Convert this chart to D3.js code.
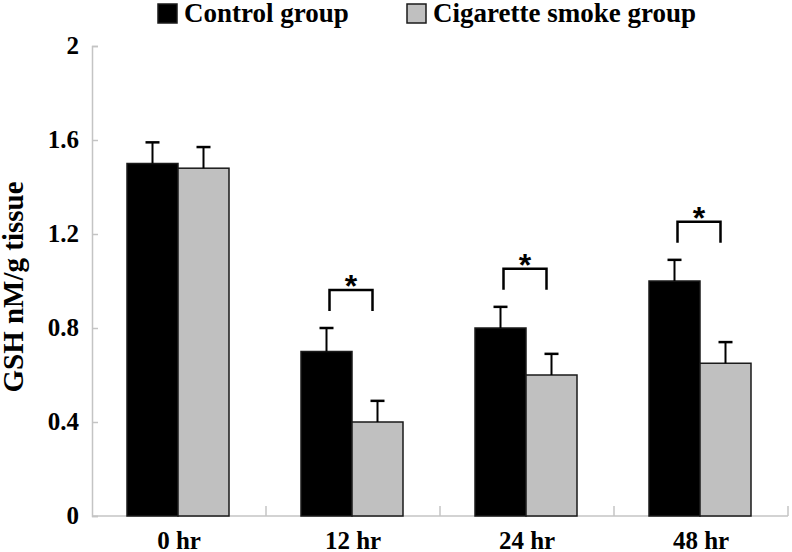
<!DOCTYPE html>
<html>
<head>
<meta charset="utf-8">
<script src="https://cdn.jsdelivr.net/npm/d3@7"></script>
<style>
  body { margin: 0; background: #fff; }
  text { font-family: "Liberation Serif", "Times New Roman", serif; font-weight: bold; fill: #000; }
</style>
</head>
<body>
<div id="chart"></div>
<script>
// Data
var categories = ["0 hr", "12 hr", "24 hr", "48 hr"];
var controlVals = [1.5, 0.7, 0.8, 1.0];
var controlErr = [0.09, 0.1, 0.09, 0.09];
var smokeVals = [1.48, 0.4, 0.6, 0.65];
var smokeErr = [0.09, 0.09, 0.09, 0.09];
var significant = [false, true, true, true];
var yTicks = [0, 0.4, 0.8, 1.2, 1.6, 2];
var seriesNames = ["Control group", "Cigarette smoke group"];

var width = 792, height = 552;
var plotLeft = 92, plotRight = 788, plotTop = 46, plotBottom = 516;
var colors = ["#000000", "#c0c0c0"];

var svg = d3.select("#chart").append("svg")
    .attr("width", width)
    .attr("height", height);

var x0 = d3.scaleBand().domain(categories).range([plotLeft, plotRight]);
var x1 = d3.scaleBand().domain([0, 1]).range([35, 137]);
var y = d3.scaleLinear().domain([0, 2]).range([plotBottom, plotTop]);

// rows for the bars
var rows = [];
categories.forEach(function(c, i) {
  rows.push({cat: c, s: 0, v: controlVals[i], e: controlErr[i]});
  rows.push({cat: c, s: 1, v: smokeVals[i], e: smokeErr[i]});
});

// y axis (ticks inward)
var yAxis = svg.append("g")
    .attr("transform", "translate(" + plotLeft + ",0)")
    .call(d3.axisRight(y).tickValues(yTicks).tickSize(6).tickSizeOuter(6).tickFormat(""));
yAxis.selectAll("line").attr("stroke", "#c4c4c4").attr("stroke-width", 1.5);
yAxis.select(".domain").attr("stroke", "#c4c4c4").attr("stroke-width", 1.5);

svg.selectAll(".ylab").data(yTicks).enter().append("text")
    .attr("class", "ylab")
    .attr("x", 79)
    .attr("y", function(d) { return y(d) + 7.5; })
    .attr("text-anchor", "end")
    .style("font-size", "25px")
    .text(function(d) { return d3.format("")(d); });

// x axis: line plus inward ticks at category boundaries
var bounds = categories.map(function(c) { return x0(c); }).concat([plotRight]);
svg.append("line")
    .attr("x1", plotLeft).attr("x2", plotRight)
    .attr("y1", plotBottom).attr("y2", plotBottom)
    .attr("stroke", "#c4c4c4").attr("stroke-width", 1.5);
svg.selectAll(".xtick").data(bounds.slice(1)).enter().append("line")
    .attr("x1", function(d) { return d; }).attr("x2", function(d) { return d; })
    .attr("y1", plotBottom).attr("y2", plotBottom - 10)
    .attr("stroke", "#c4c4c4").attr("stroke-width", 1.5);

svg.selectAll(".xlab").data(categories).enter().append("text")
    .attr("x", function(d) { return x0(d) + x0.bandwidth() / 2; })
    .attr("y", 549)
    .attr("text-anchor", "middle")
    .style("font-size", "25px")
    .text(function(d) { return d; });

// bars
svg.selectAll(".bar").data(rows).enter().append("rect")
    .attr("x", function(d) { return x0(d.cat) + x1(d.s); })
    .attr("width", x1.bandwidth())
    .attr("y", function(d) { return y(d.v); })
    .attr("height", function(d) { return y(0) - y(d.v); })
    .attr("fill", function(d) { return colors[d.s]; })
    .attr("stroke", "#1a1a1a")
    .attr("stroke-width", 1.5);

// error bars (upper only)
var eb = svg.selectAll(".err").data(rows).enter().append("g");
eb.append("line")
    .attr("x1", function(d) { return x0(d.cat) + x1(d.s) + x1.bandwidth() / 2; })
    .attr("x2", function(d) { return x0(d.cat) + x1(d.s) + x1.bandwidth() / 2; })
    .attr("y1", function(d) { return y(d.v); })
    .attr("y2", function(d) { return y(d.v + d.e); })
    .attr("stroke", "#000").attr("stroke-width", 2);
eb.append("line")
    .attr("x1", function(d) { return x0(d.cat) + x1(d.s) + x1.bandwidth() / 2 - 7; })
    .attr("x2", function(d) { return x0(d.cat) + x1(d.s) + x1.bandwidth() / 2 + 7; })
    .attr("y1", function(d) { return y(d.v + d.e); })
    .attr("y2", function(d) { return y(d.v + d.e); })
    .attr("stroke", "#000").attr("stroke-width", 2.5);

// significance brackets
var sig = categories.map(function(c, i) {
  return {cat: c, top: Math.max(controlVals[i] + controlErr[i], smokeVals[i] + smokeErr[i]), on: significant[i]};
}).filter(function(d) { return d.on; });

var br = svg.selectAll(".br").data(sig).enter().append("g");
br.append("path")
    .attr("d", function(d) {
      var xa = x0(d.cat) + x1(0) + x1.bandwidth() / 2 + 3;
      var xb = x0(d.cat) + x1(1) + x1.bandwidth() / 2 - 5;
      var yb = y(d.top) - 17;
      var yt = yb - 21;
      return "M" + xa + "," + yb + "V" + yt + "H" + xb + "V" + yb;
    })
    .attr("fill", "none")
    .attr("stroke", "#000")
    .attr("stroke-width", 2.5);
br.append("text")
    .attr("x", function(d) { return x0(d.cat) + x1(0) + x1.bandwidth() - 1; })
    .attr("y", function(d) { return y(d.top) - 38 + 7; })
    .attr("text-anchor", "middle")
    .style("font-family", "'Liberation Sans', Arial, sans-serif")
    .style("font-weight", "bold")
    .style("font-size", "32px")
    .text("*");

// y title
svg.append("text")
    .attr("transform", "translate(23,287)rotate(-90)")
    .attr("text-anchor", "middle")
    .style("font-size", "29px")
    .text("GSH nM/g tissue");

// legend
var legX = [158, 407];
var leg = svg.selectAll(".leg").data(seriesNames).enter().append("g");
leg.append("rect")
    .attr("x", function(d, i) { return legX[i]; })
    .attr("y", 4)
    .attr("width", 19)
    .attr("height", 19)
    .attr("fill", function(d, i) { return colors[i]; })
    .attr("stroke", "#1a1a1a")
    .attr("stroke-width", 1.5);
leg.append("text")
    .attr("x", function(d, i) { return legX[i] + 26; })
    .attr("y", 22)
    .style("font-size", "27px")
    .text(function(d) { return d; });
</script>
</body>
</html>
